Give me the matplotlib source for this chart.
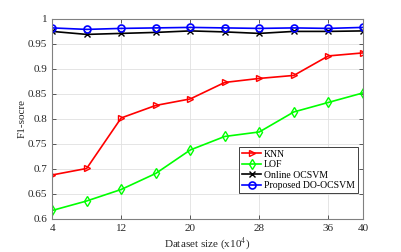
import matplotlib
matplotlib.use('Agg')
import matplotlib.pyplot as plt

plt.rcParams['font.family'] = ['Liberation Serif', 'DejaVu Serif']
plt.rcParams['mathtext.fontset'] = 'stix'

# Data
dataset_size = [4, 8, 12, 16, 20, 24, 28, 32, 36, 40]
knn = [0.688, 0.701, 0.802, 0.827, 0.840, 0.873, 0.881, 0.887, 0.926, 0.932]
lof = [0.617, 0.636, 0.659, 0.691, 0.738, 0.765, 0.774, 0.814, 0.833, 0.852]
online_ocsvm = [0.975, 0.969, 0.971, 0.973, 0.976, 0.974, 0.971, 0.975, 0.975, 0.976]
proposed = [0.982, 0.979, 0.981, 0.982, 0.983, 0.982, 0.981, 0.982, 0.981, 0.983]

x_ticks = [4, 12, 20, 28, 36, 40]
y_ticks = [0.6, 0.65, 0.7, 0.75, 0.8, 0.85, 0.9, 0.95, 1.0]
y_tick_labels = ['0.6', '0.65', '0.7', '0.75', '0.8', '0.85', '0.9', '0.95', '1']

fig = plt.figure(figsize=(4.01, 2.52), dpi=100)
ax = fig.add_axes([0.13, 0.131, 0.775, 0.794])

lw = 1.2
ms = 5
ax.plot(dataset_size, knn, color='red', marker='>', mfc='none', mew=1.0, ms=ms, lw=lw, label='KNN')
ax.plot(dataset_size, lof, color='#00ff00', marker='d', mfc='none', mew=1.0, ms=ms, lw=lw, label='LOF')
ax.plot(dataset_size, online_ocsvm, color='black', marker='x', mew=1.0, ms=4, lw=lw, label='Online OCSVM')
ax.plot(dataset_size, proposed, color='blue', marker='o', mfc='none', mew=1.2, ms=ms, lw=lw, label='Proposed DO-OCSVM')

ax.set_xlim(4, 40)
ax.set_ylim(0.6, 1.0)
ax.set_xticks(x_ticks)
ax.set_yticks(y_ticks)
ax.set_yticklabels(y_tick_labels)
ax.tick_params(direction='in', top=True, right=True, labelsize=8, colors='#404040', length=3, width=0.6)
for tl in ax.get_xticklabels() + ax.get_yticklabels():
    tl.set_color('#262626')
for s in ax.spines.values():
    s.set_color('#808080')
    s.set_linewidth(0.8)
ax.grid(True, color='#e0e0e0', lw=0.6)
ax.set_axisbelow(True)

ax.set_xlabel('Dataset size (x10$^4$)', fontsize=8, color='#262626', labelpad=2)
ax.set_ylabel('F1-socre', fontsize=8, color='#262626', labelpad=1)

leg = ax.legend(loc='lower right', bbox_to_anchor=(0.984, 0.13), borderaxespad=0, fontsize=7, frameon=True,
                fancybox=False, edgecolor='#404040', framealpha=1, borderpad=0.3,
                labelspacing=0.15, handlelength=2.0, handletextpad=0.3)
leg.get_frame().set_linewidth(0.7)

fig.savefig('out.png', dpi=100)
